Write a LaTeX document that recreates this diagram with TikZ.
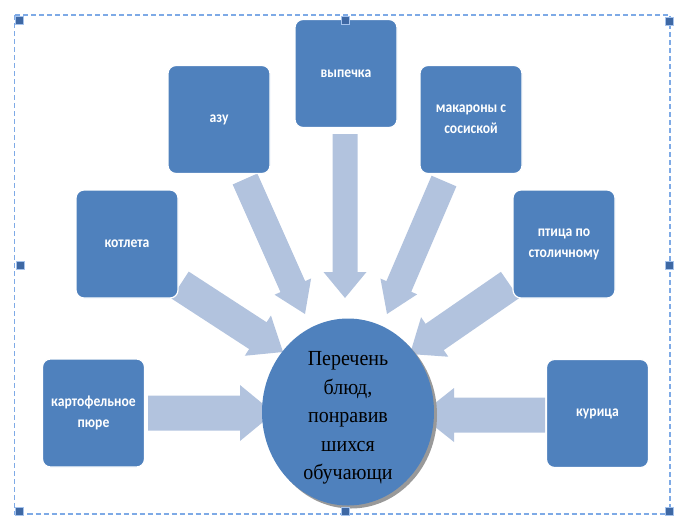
\documentclass[tikz,border=0pt]{standalone}
\usepackage{fontspec}
\setmainfont{Liberation Serif}
\newfontfamily\boxfont{Carlito Bold}[FakeStretch=0.88]
\newfontfamily\ellfont{Liberation Serif}[FakeStretch=0.93]
\usetikzlibrary{calc,shapes.geometric,shadows}
\definecolor{boxblue}{RGB}{79,129,189}
\definecolor{arrowblue}{RGB}{178,195,222}
\definecolor{framebl}{RGB}{126,170,230}
\definecolor{handlebl}{RGB}{62,104,164}
% block arrow: start, tip, half shaft width, half head width, head length
\newcommand\blkarrow[5]{%
  \coordinate (ba-n) at ($(#2)!#5!(#1)$);
  \fill[arrowfill] ($(#1)!#3!90:(#2)$) -- ($(ba-n)!#3!90:(#2)$) -- ($(ba-n)!#4!90:(#2)$) -- (#2)
    -- ($(ba-n)!#4!-90:(#2)$) -- ($(ba-n)!#3!-90:(#2)$) -- ($(#1)!#3!-90:(#2)$) -- cycle;}
\begin{document}
\begin{tikzpicture}[x=1pt,y=-1pt,
  box/.style={rectangle, rounded corners=8pt, fill=boxblue, draw=white, line width=1.2pt,
    minimum width=102pt, minimum height=108pt, inner sep=2pt, text=white, align=center,
    font=\boxfont\fontsize{15.5}{21}\selectfont},
  handle/.style={rectangle, fill=handlebl, draw=framebl!70, line width=0.5pt, minimum size=8pt, inner sep=0pt},
  arrowfill/.style={fill=arrowblue},
  frameline/.style={draw=framebl, line width=1.2pt, dash pattern=on 5pt off 3pt}]
\useasboundingbox (0,0) rectangle (683,515);
\draw[frameline] (14.5,15) rectangle (670,514);
% arrow ends
\coordinate (vyp-s) at (345,134);  \coordinate (vyp-t) at (345,298);
\coordinate (azu-s) at (245,179);  \coordinate (azu-t) at (305,314);
\coordinate (mak-s) at (444,181);  \coordinate (mak-t) at (387,314);
\coordinate (kot-s) at (180,285);  \coordinate (kot-t) at (283,352);
\coordinate (pti-s) at (510,285);  \coordinate (pti-t) at (410,354);
\coordinate (kar-s) at (148,413);  \coordinate (kar-t) at (274,413);
\coordinate (kur-s) at (545,415);  \coordinate (kur-t) at (420,415);
\blkarrow{vyp-s}{vyp-t}{12.5pt}{21.5pt}{26pt}
\blkarrow{azu-s}{azu-t}{13.5pt}{20pt}{30pt}
\blkarrow{mak-s}{mak-t}{13.5pt}{20pt}{30pt}
\blkarrow{kot-s}{kot-t}{16pt}{24pt}{30pt}
\blkarrow{pti-s}{pti-t}{16pt}{24pt}{30pt}
\blkarrow{kar-s}{kar-t}{17.5pt}{28pt}{34pt}
\blkarrow{kur-s}{kur-t}{17.5pt}{27pt}{34pt}
% centre
\node[ellipse, fill=boxblue, minimum width=172pt, minimum height=187pt, inner sep=0pt,
  drop shadow={shadow xshift=3pt, shadow yshift=-3pt, fill=black!40, opacity=1}] (ell) at (348,412) {};
\node[align=center, text=black, font=\ellfont\fontsize{21.5}{28.5}\selectfont] (ellt) at (348,418)
  {Перечень\\блюд,\\понравив\\шихся\\обучающи};
% boxes
\node[box] (vyp) at (346,73.5) {выпечка};
\node[box] (azu) at (219,119.5) {азу};
\node[box] (mak) at (471,119.5) {макароны с\\сосиской};
\node[box] (kot) at (127,244) {котлета};
\node[box] (pti) at (564,244) {птица по\\столичному};
\node[box] (kar) at (93.5,413) {картофельное\\пюре};
\node[box] (kur) at (597.5,413.5) {курица};
% handles
\node[handle] (h1) at (19.5,20.5) {};
\node[handle] (h2) at (345,20.5) {};
\node[handle] (h3) at (669,21) {};
\node[handle] (h4) at (20,265.5) {};
\node[handle] (h5) at (669,265.5) {};
\node[handle] (h6) at (19.5,511) {};
\node[handle] (h7) at (345,511) {};
\node[handle] (h8) at (669,511) {};
\end{tikzpicture}
\end{document}
